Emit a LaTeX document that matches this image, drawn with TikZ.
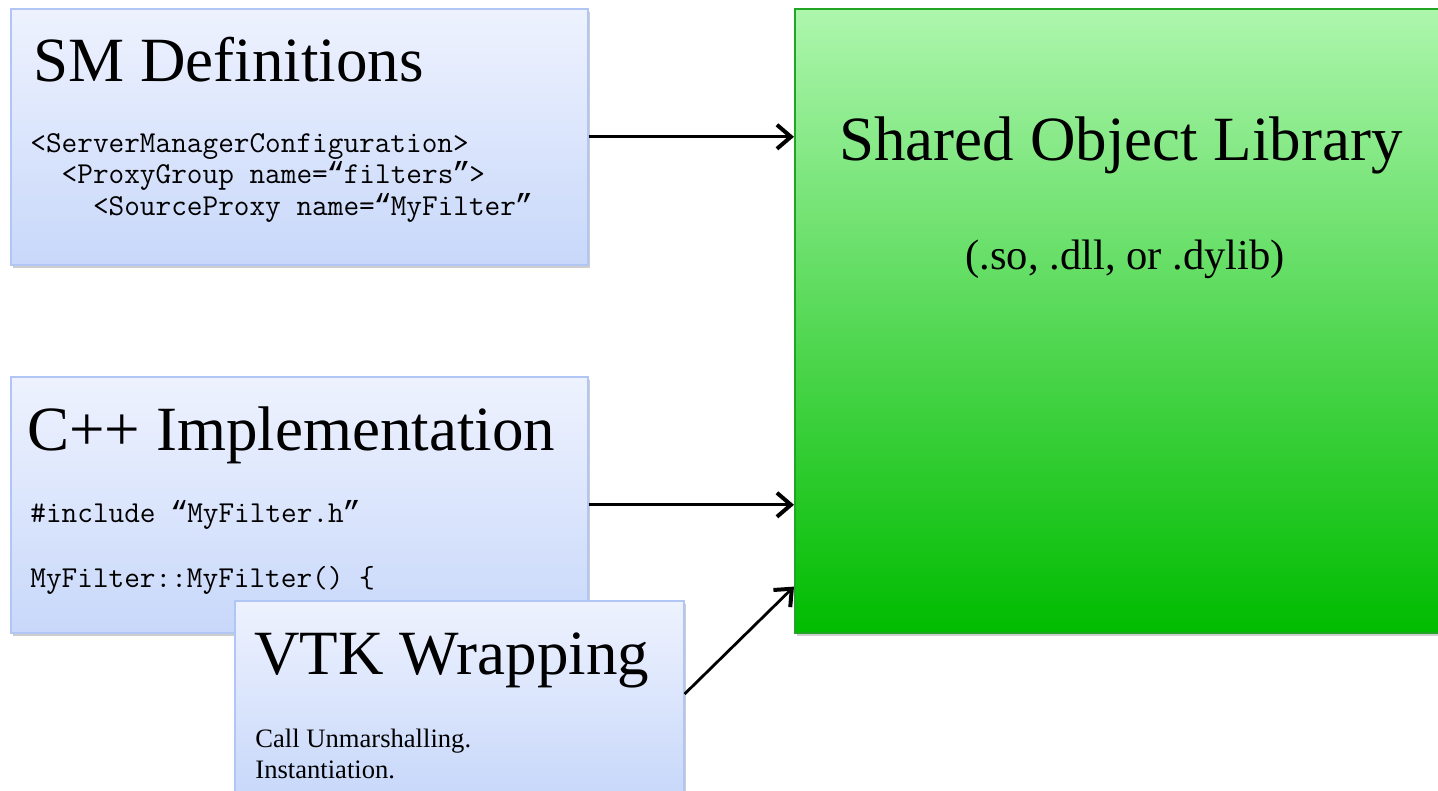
\documentclass[tikz,border=0pt]{standalone}
\usepackage{fontspec}
\setmainfont{Liberation Serif}
\newfontfamily\qmonofont{Liberation Mono}
\newcommand\myoq{\makebox[0.525em][c]{\qmonofont “}}
\newcommand\mycq{\makebox[0.525em][c]{\qmonofont ”}}
\usetikzlibrary{arrows.meta,shadows,calc}
\definecolor{bluetop}{HTML}{EEF2FE}
\definecolor{bluebot}{HTML}{C8D8FA}
\definecolor{blueedge}{HTML}{B2C6F6}
\definecolor{greentop}{HTML}{ADF6AD}
\definecolor{greenbot}{HTML}{00BC00}
\definecolor{greenedge}{HTML}{22A522}
\tikzset{
  bluebox/.style={draw=blueedge, line width=0.8pt, top color=bluetop, bottom color=bluebot,
    anchor=north west, inner sep=0pt,
    drop shadow={shadow xshift=1pt, shadow yshift=-1.5pt, fill=black!55, opacity=0.35}},
  greenbox/.style={draw=greenedge, line width=0.8pt, top color=greentop, bottom color=greenbot,
    anchor=north west, inner sep=0pt,
    drop shadow={shadow xshift=1pt, shadow yshift=-1.5pt, fill=black!55, opacity=0.35}},
  titletext/.style={anchor=base west, inner sep=0pt, font=\fontsize{31.5pt}{36pt}\selectfont},
  codetext/.style={anchor=base west, inner sep=0pt, font=\ttfamily\fontsize{15.2pt}{18pt}\selectfont},
  bodytext/.style={anchor=base west, inner sep=0pt, font=\fontsize{13.3pt}{16pt}\selectfont},
  conn/.style={line width=1.4pt, -{Straight Barb[length=7pt,width=12pt,line width=2pt]}}
}
\begin{document}
\begin{tikzpicture}[x=0.5pt,y=-0.5pt]
\clip (0,0) rectangle (1438,791);
\fill[white] (0,0) rectangle (1438,791);
% green box
\node[greenbox, minimum width=330pt, minimum height=312pt] (so) at (794,8) {};
\node[titletext] (sotitle) at (839,161) {Shared Object Library};
\node[anchor=base west, inner sep=0pt, font=\fontsize{21.3pt}{24pt}\selectfont] (sosub) at (965,269) {(.so, .dll, or .dylib)};
% SM box
\node[bluebox, minimum width=288.5pt, minimum height=128pt] (sm) at (10,8) {};
\node[titletext] (smtitle) at (33,82) {SM Definitions};
\node[codetext] (sm1) at (30,153) {<ServerManagerConfiguration>};
\node[codetext] (sm2) at (30,184) {\ \ <ProxyGroup name=\myoq filters\mycq>};
\node[codetext] (sm3) at (30,215) {\ \ \ \ <SourceProxy name=\myoq MyFilter\mycq};
% C++ box
\node[bluebox, minimum width=288.5pt, minimum height=128pt] (cpp) at (10,376) {};
\node[titletext] (cpptitle) at (27,450) {C++ Implementation};
\node[codetext] (cpp1) at (30,522) {\#include \myoq MyFilter.h\mycq};
\node[codetext] (cpp2) at (30,587) {MyFilter::MyFilter() \{};
% VTK box
\node[bluebox, minimum width=224.5pt, minimum height=97pt] (vtk) at (234,600) {};
\node[titletext] (vtktitle) at (254,674) {VTK Wrapping};
\node[bodytext] (vtk1) at (255,747) {Call Unmarshalling.};
\node[bodytext] (vtk2) at (255,778) {Instantiation.};
% connectors
\coordinate (t1) at (sm.east -| so.west);
\coordinate (t2) at (cpp.east -| so.west);
\coordinate (t3) at ($(so.south west)+(0,-47)$);
\coordinate (s3) at ($(vtk.north east)+(0,94)$);
\draw[conn] (sm.east) -- (t1);
\draw[conn] (cpp.east) -- (t2);
\draw[conn] (s3) -- (t3);
\end{tikzpicture}
\end{document}
